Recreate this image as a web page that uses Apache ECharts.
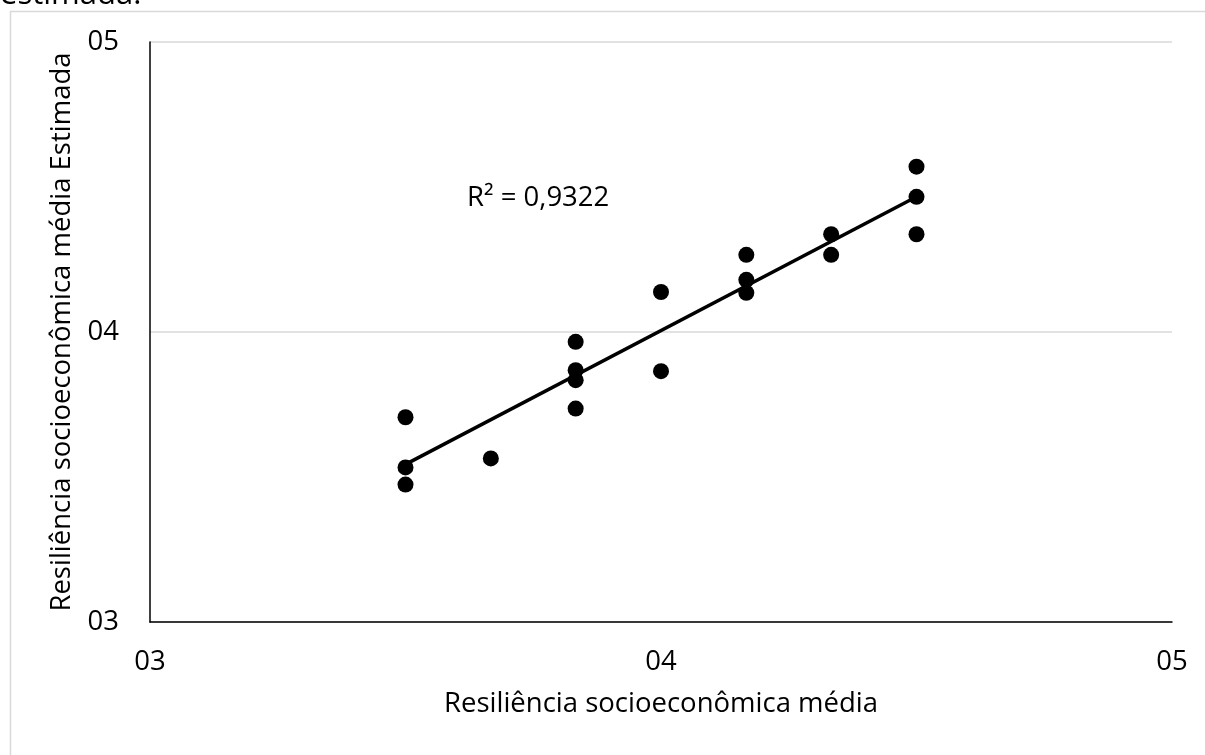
<!DOCTYPE html>
<html>
<head>
<meta charset="utf-8">
<style>
  html, body { margin: 0; padding: 0; background: #fff; }
  #chart { width: 1205px; height: 755px; }
</style>
<script src="https://cdn.jsdelivr.net/npm/echarts@6/dist/echarts.min.js"></script>
</head>
<body>
<div id="chart"></div>
<script>
// valores
var xValues = [3.5, 3.5, 3.5, 3.667, 3.833, 3.833, 3.833, 3.833, 4, 4,
               4.167, 4.167, 4.167, 4.333, 4.333, 4.5, 4.5, 4.5];
var yValues = [3.706, 3.533, 3.474, 3.564, 3.966, 3.868, 3.834, 3.736, 3.865, 4.138,
               4.266, 4.18, 4.135, 4.337, 4.266, 4.57, 4.466, 4.337];
var xTitle = 'Resiliência socioeconômica média';
var yTitle = 'Resiliência socioeconômica média Estimada';
var r2Text = 'R² = 0,9322';
var captionText = 'estimada.';

var fontFam = '"Open Sans", "Noto Sans", sans-serif';
var fs = 27.5;

// pontos
var points = [];
for (var i = 0; i < xValues.length; i++) {
	points.push([xValues[i], yValues[i]]);
}

// linha de tendência (mínimos quadrados)
function trendLine(xs, ys) {
	var n = xs.length, sx = 0, sy = 0, sxx = 0, sxy = 0;
	for (var i = 0; i < n; i++) {
		sx += xs[i]; sy += ys[i];
		sxx += xs[i] * xs[i]; sxy += xs[i] * ys[i];
	}
	var b = (n * sxy - sx * sy) / (n * sxx - sx * sx);
	var a = (sy - b * sx) / n;
	var x0 = Math.min.apply(null, xs), x1 = Math.max.apply(null, xs);
	return [[x0, a + b * x0], [x1, a + b * x1]];
}

var myChart = echarts.init(document.getElementById('chart'));

var axisLabelFmt = function (v) { return '0' + v; };

option = {
	animation: false,
	grid: {
		left: 150,
		right: 33,
		top: 42,
		bottom: 133
	},
	xAxis: {
		type: 'value',
		min: 3,
		max: 5,
		interval: 1,
		name: xTitle,
		nameLocation: 'middle',
		nameGap: 68,
		nameTextStyle: { color: '#000', fontSize: fs, fontFamily: fontFam },
		axisLine: { lineStyle: { color: '#000', width: 1.5 } },
		axisTick: { show: false },
		splitLine: { show: false },
		axisLabel: {
			color: '#000', fontSize: fs, fontFamily: fontFam, margin: 26,
			formatter: axisLabelFmt
		}
	},
	yAxis: {
		type: 'value',
		min: 3,
		max: 5,
		interval: 1,
		name: yTitle,
		nameLocation: 'middle',
		nameGap: 74,
		nameTextStyle: { color: '#000', fontSize: fs, fontFamily: fontFam },
		axisLine: { show: true, lineStyle: { color: '#000', width: 1.5 } },
		axisTick: { show: false },
		splitLine: { lineStyle: { color: '#d9d9d9', width: 1.5 } },
		axisLabel: {
			color: '#000', fontSize: fs, fontFamily: fontFam, margin: 31,
			formatter: axisLabelFmt
		}
	},
	graphic: [
		{
			type: 'rect',
			left: 8, top: 9,
			shape: { width: 1300, height: 800 },
			style: { fill: 'none', stroke: '#d9d9d9', lineWidth: 1.5 },
			z: -1
		},
		{
			type: 'text',
			x: 0, y: -20,
			style: {
				text: captionText, fill: '#000', fontSize: 31, fontFamily: fontFam,
				verticalAlign: 'top'
			}
		},
		{
			type: 'text',
			x: 467, y: 198,
			style: {
				text: r2Text, fill: '#000', fontSize: fs, fontFamily: fontFam,
				verticalAlign: 'middle'
			}
		}
	],
	series: [
		{
			type: 'line',
			data: trendLine(xValues, yValues),
			showSymbol: false,
			lineStyle: { color: '#000', width: 3.5 },
			silent: true,
			z: 3
		},
		{
			type: 'scatter',
			data: points,
			symbol: 'circle',
			symbolSize: 16,
			itemStyle: { color: '#000', opacity: 1 },
			z: 2
		}
	]
};

myChart.setOption(option);
</script>
</body>
</html>
